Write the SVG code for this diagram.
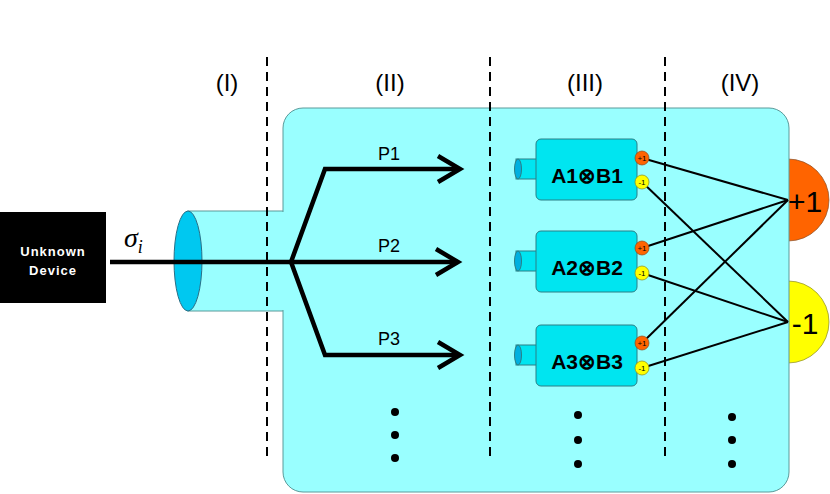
<svg xmlns="http://www.w3.org/2000/svg" width="830" height="494" viewBox="0 0 830 494">
<style>
.lbl{font-family:"Liberation Sans",Arial,sans-serif;fill:#000}
.dash{stroke:#000;stroke-width:2;stroke-dasharray:9,6;fill:none}
.w{stroke:#000;stroke-width:2;fill:none}
.arr{stroke:#000;stroke-width:4.5;fill:none;stroke-linejoin:miter}
.mod{fill:#00e5f0;stroke:#2a7f86;stroke-width:1}
.pos{fill:#ff6400;stroke:#8a4a20;stroke-width:0.7}
.neg{fill:#ffff00;stroke:#8a8a20;stroke-width:0.7}
.dot{fill:#000}
</style>
<g id="outputs">
<circle cx="788" cy="200" r="41" fill="#ff6400" stroke="#8a4a20" stroke-width="0.7"/>
<circle cx="788" cy="322" r="41" fill="#ffff00" stroke="#8a8a20" stroke-width="0.7"/>
</g>
<g id="apparatus">
<rect x="188" y="211" width="100" height="100" fill="#99ffff" stroke="#5a9a9a" stroke-width="1"/>
<rect x="283" y="108" width="506" height="384" rx="20" fill="#99ffff" stroke="#5a9a9a" stroke-width="1"/>
<rect x="282" y="212" width="4" height="98" fill="#99ffff"/>
<ellipse cx="188" cy="261" rx="14" ry="50" fill="#00c8f0" stroke="#2a6f86" stroke-width="1"/>
</g>
<g id="plus-label"><text class="lbl" x="805" y="212" font-size="30" text-anchor="middle">+1</text></g>
<g id="minus-label"><text class="lbl" x="805" y="334" font-size="30" text-anchor="middle">-1</text></g>
<g id="device">
<rect x="0" y="212" width="106" height="91" fill="#000"/>
<text class="lbl" x="53" y="256" font-size="13" font-weight="bold" fill="#fff" style="fill:#fff;letter-spacing:1px" text-anchor="middle">Unknown</text>
<text class="lbl" x="53" y="275" font-size="13" font-weight="bold" style="fill:#fff;letter-spacing:1px" text-anchor="middle">Device</text>
</g>
<text x="124" y="247" font-family="'Liberation Serif',serif" font-style="italic" font-size="28">σ<tspan font-size="18" dy="6">i</tspan></text>
<g id="dividers">
<line class="dash" x1="267" y1="57" x2="267" y2="458"/>
<line class="dash" x1="490" y1="57" x2="490" y2="458"/>
<line class="dash" x1="665" y1="57" x2="665" y2="458"/>
<text class="lbl" x="227" y="91" font-size="24" text-anchor="middle">(I)</text>
<text class="lbl" x="390" y="91" font-size="24" text-anchor="middle">(II)</text>
<text class="lbl" x="585" y="91" font-size="24" text-anchor="middle">(III)</text>
<text class="lbl" x="740" y="91" font-size="24" text-anchor="middle">(IV)</text>
</g>
<g id="connectors">
<line x1="110" y1="262" x2="458" y2="262" class="arr"/>
<polyline points="291,262 325,169 458,169" class="arr"/>
<polyline points="291,262 325,355 458,355" class="arr"/>
<polyline points="438,156 460,169 438,182" class="arr"/>
<polyline points="436,249 458,262 436,275" class="arr"/>
<polyline points="438,342 460,355 438,368" class="arr"/>
<line class="w" x1="642" y1="158" x2="788" y2="200"/>
<line class="w" x1="642" y1="182" x2="788" y2="322"/>
<line class="w" x1="642" y1="248" x2="788" y2="200"/>
<line class="w" x1="642" y1="273" x2="788" y2="322"/>
<line class="w" x1="642" y1="343" x2="788" y2="200"/>
<line class="w" x1="642" y1="368" x2="788" y2="322"/>
</g>
<g id="paths">
<text class="lbl" x="389" y="160" font-size="18" text-anchor="middle">P1</text>
<text class="lbl" x="389" y="252" font-size="18" text-anchor="middle">P2</text>
<text class="lbl" x="389" y="345" font-size="18" text-anchor="middle">P3</text>
</g>
<g id="m1">
<rect x="516" y="159" width="24" height="20" class="mod"/>
<ellipse cx="518" cy="169" rx="3.5" ry="10" fill="#00b0e0" stroke="#2a7f86"/>
<rect x="536" y="139" width="101" height="61" rx="5" class="mod"/>
<circle cx="642" cy="158" r="7" class="pos"/><text x="642" y="161" font-size="8" text-anchor="middle" class="lbl">+1</text>
<circle cx="642" cy="182" r="7" class="neg"/><text x="642" y="185" font-size="8" text-anchor="middle" class="lbl">-1</text>
<text class="lbl" x="587" y="183" font-size="21" font-weight="bold" text-anchor="middle">A1⊗B1</text>
</g>
<g id="m2">
<rect x="516" y="251" width="24" height="20" class="mod"/>
<ellipse cx="518" cy="261" rx="3.5" ry="10" fill="#00b0e0" stroke="#2a7f86"/>
<rect x="536" y="231" width="101" height="61" rx="5" class="mod"/>
<circle cx="642" cy="248" r="7" class="pos"/><text x="642" y="251" font-size="8" text-anchor="middle" class="lbl">+1</text>
<circle cx="642" cy="273" r="7" class="neg"/><text x="642" y="276" font-size="8" text-anchor="middle" class="lbl">-1</text>
<text class="lbl" x="587" y="275" font-size="21" font-weight="bold" text-anchor="middle">A2⊗B2</text>
</g>
<g id="m3">
<rect x="516" y="345" width="24" height="20" class="mod"/>
<ellipse cx="518" cy="355" rx="3.5" ry="10" fill="#00b0e0" stroke="#2a7f86"/>
<rect x="536" y="325" width="101" height="61" rx="5" class="mod"/>
<circle cx="642" cy="343" r="7" class="pos"/><text x="642" y="346" font-size="8" text-anchor="middle" class="lbl">+1</text>
<circle cx="642" cy="368" r="7" class="neg"/><text x="642" y="371" font-size="8" text-anchor="middle" class="lbl">-1</text>
<text class="lbl" x="587" y="369" font-size="21" font-weight="bold" text-anchor="middle">A3⊗B3</text>
</g>
<g id="ellipses">
<circle class="dot" cx="395" cy="412" r="4"/><circle class="dot" cx="395" cy="435" r="4"/><circle class="dot" cx="395" cy="458" r="4"/>
<circle class="dot" cx="578" cy="415" r="4"/><circle class="dot" cx="578" cy="440" r="4"/><circle class="dot" cx="578" cy="464" r="4"/>
<circle class="dot" cx="732" cy="417" r="4"/><circle class="dot" cx="732" cy="440" r="4"/><circle class="dot" cx="732" cy="464" r="4"/>
</g>
</svg>
